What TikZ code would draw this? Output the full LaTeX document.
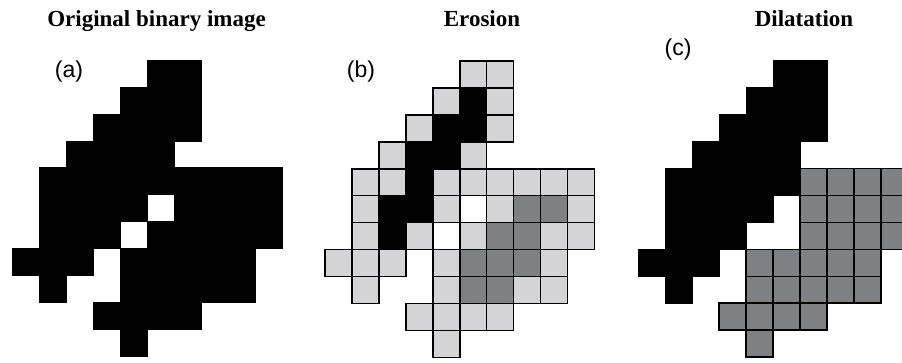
\documentclass[tikz,border=0pt]{standalone}
\usepackage{fontspec}
\setmainfont{Liberation Serif}
\newfontfamily\labelfont{Liberation Sans}
\definecolor{lightcell}{RGB}{212,212,214}
\definecolor{darkcell}{RGB}{127,128,132}
\newcommand\cellsz{26.95}
\newcommand\cellat[5]{\path[#5] ({#1+#3*\cellsz},{#2+#4*\cellsz}) rectangle ++(\cellsz,\cellsz);}
\begin{document}
\begin{tikzpicture}[x=1pt,y=-1pt,
  blackcell/.style={fill=black,draw=black,line width=0.6pt},
  whitecell/.style={fill=white,draw=black,line width=1.5pt},
  lightgray/.style={fill=lightcell,draw=black,line width=1.5pt},
  darkgray/.style={fill=darkcell,draw=black,line width=1.5pt},
  title/.style={font=\fontsize{23}{26}\selectfont\bfseries,anchor=base,inner sep=0pt},
  tag/.style={font=\labelfont\fontsize{23}{26}\selectfont,anchor=base,inner sep=0pt}]
\useasboundingbox (0,0) rectangle (902,363);
\clip (0,0) rectangle (902,363);

% titles
\node[title] (ta) at (156.5,27) {Original binary image};
\node[title] (tb) at (482,27) {Erosion};
\node[title] (tc) at (804,27) {Dilatation};
% panel tags
\node[tag] (la) at (69,78) {(a)};
\node[tag] (lb) at (361,78) {(b)};
\node[tag] (lc) at (678,56) {(c)};

% panel (a): original
\foreach \r/\cl in {0/{5,6},1/{4,5,6},2/{3,4,5,6},3/{2,3,4,5},4/{1,2,3,4,5,6,7,8,9},
  5/{1,2,3,4,6,7,8,9},6/{1,2,3,5,6,7,8,9},7/{0,1,2,4,5,6,7,8},8/{1,4,5,6,7,8},9/{3,4,5,6},10/{4}}
  {\foreach \c in \cl {\cellat{12.3}{60}{\c}{\r}{blackcell}}}

% panel (b): erosion
\foreach \r/\cl in {0/{5,6},1/{4,6},2/{3,6},3/{2,5},4/{1,2,4,5,6,7,8,9},
  5/{1,4,6,9},6/{1,3,5,8,9},7/{0,1,2,4,8},8/{1,4,7,8},9/{3,4,5,6},10/{4}}
  {\foreach \c in \cl {\cellat{325}{61}{\c}{\r}{lightgray}}}
\foreach \c/\r in {5/5,4/6}
  {\cellat{325}{61}{\c}{\r}{whitecell}}
\foreach \c/\r in {7/5,8/5,6/6,7/6,5/7,6/7,7/7,5/8,6/8}
  {\cellat{325}{61}{\c}{\r}{darkgray}}
\foreach \c/\r in {5/1,4/2,5/2,3/3,4/3,3/4,2/5,3/5,2/6}
  {\cellat{325}{61}{\c}{\r}{blackcell}}

% panel (c): dilatation
\foreach \r/\cl in {4/{6,7,8,9},5/{6,7,8,9},6/{6,7,8,9},7/{4,5,6,7,8},8/{4,5,6,7,8},9/{3,4,5,6},10/{4}}
  {\foreach \c in \cl {\cellat{638.3}{60.7}{\c}{\r}{darkgray}}}
\foreach \r/\cl in {0/{5,6},1/{4,5,6},2/{3,4,5,6},3/{2,3,4,5},4/{1,2,3,4,5},
  5/{1,2,3,4},6/{1,2,3},7/{0,1,2},8/{1}}
  {\foreach \c in \cl {\cellat{638.3}{60.7}{\c}{\r}{blackcell}}}
\end{tikzpicture}
\end{document}
